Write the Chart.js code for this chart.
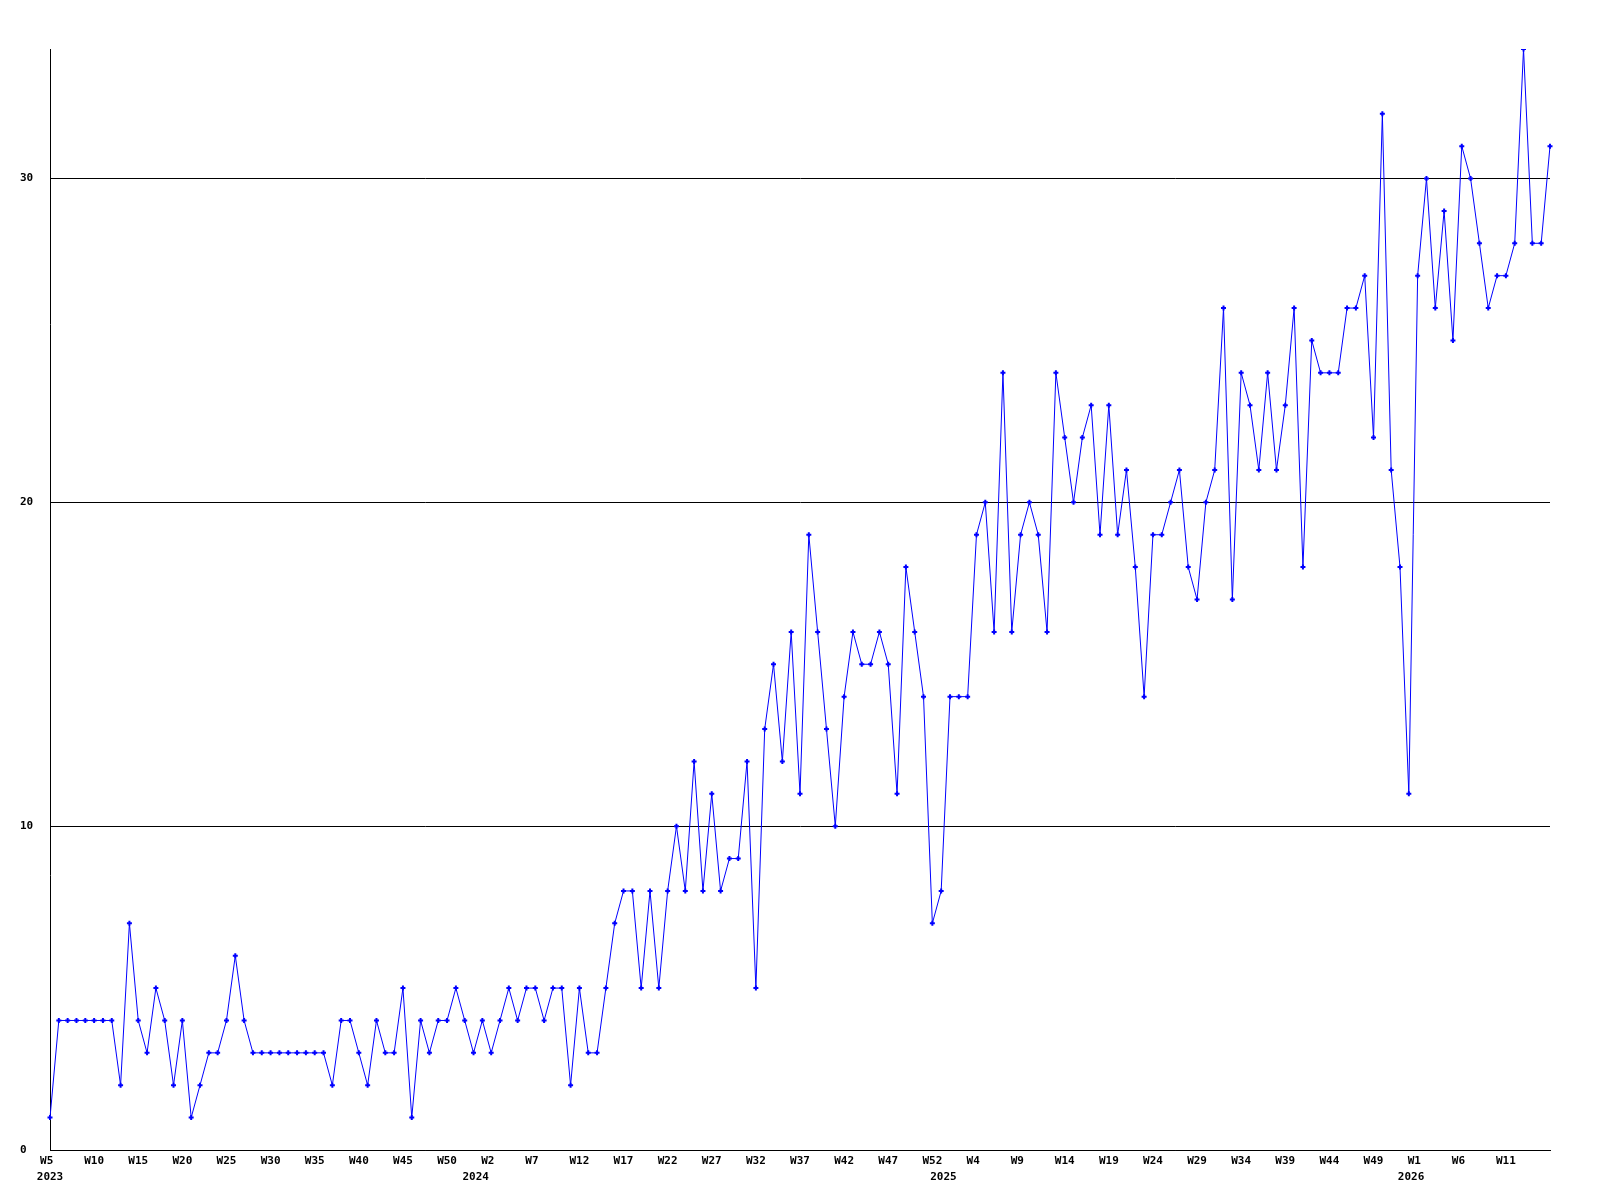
<!DOCTYPE html>
<html>
<head>
    <title>Weekly count</title>
    <script src="https://cdn.jsdelivr.net/npm/chart.js"></script>
    <style>
        body { margin: 0; background: #fff; }
        #wrap { width: 1600px; height: 1200px; }
    </style>
</head>
<body>
    <div id="wrap"><canvas id="chart" width="1600" height="1200"></canvas></div>

    <script>
// Weekly values, one array per year (week numbers run W1..W53 in this export)
const values2023 = [1, 4, 4, 4, 4, 4, 4, 4, 2, 7, 4, 3, 5, 4, 2, 4, 1, 2, 3, 3,
    4, 6, 4, 3, 3, 3, 3, 3, 3, 3, 3, 3, 2, 4, 4, 3, 2, 4, 3, 3,
    5, 1, 4, 3, 4, 4, 5, 4, 3];                       // W5..W53
const values2024 = [4, 3, 4, 5, 4, 5, 5, 4, 5, 5, 2, 5, 3, 3, 5, 7, 8, 8, 5, 8,
    5, 8, 10, 8, 12, 8, 11, 8, 9, 9, 12, 5, 13, 15, 12, 16, 11, 19, 16, 13,
    10, 14, 16, 15, 15, 16, 15, 11, 18, 16, 14, 7, 8];  // W1..W53
const values2025 = [14, 14, 14, 19, 20, 16, 24, 16, 19, 20, 19, 16, 24, 22, 20, 22, 23, 19, 23, 19,
    21, 18, 14, 19, 19, 20, 21, 18, 17, 20, 21, 26, 17, 24, 23, 21, 24, 21, 23, 26,
    18, 25, 24, 24, 24, 26, 26, 27, 22, 32, 21, 18, 11]; // W1..W53
const values2026 = [27, 30, 26, 29, 25, 31, 30, 28, 26, 27, 27, 28, 34, 28, 28, 31]; // W1..W16

// labels shown under every 5th point
const tickWeeks = ['W5', 'W10', 'W15', 'W20', 'W25', 'W30', 'W35', 'W40', 'W45', 'W50',
    'W2', 'W7', 'W12', 'W17', 'W22', 'W27', 'W32', 'W37', 'W42', 'W47', 'W52',
    'W4', 'W9', 'W14', 'W19', 'W24', 'W29', 'W34', 'W39', 'W44', 'W49',
    'W1', 'W6', 'W11'];
const yTicks = [0, 10, 20, 30];

// build categories + values, remember where each year starts
const series = [
    {year: 2023, start: 5, vals: values2023},
    {year: 2024, start: 1, vals: values2024},
    {year: 2025, start: 1, vals: values2025},
    {year: 2026, start: 1, vals: values2026}
];
const labels = [];
const values = [];
const yearAt = {};
series.forEach(s => {
    yearAt[labels.length] = String(s.year);
    s.vals.forEach((v, i) => {
        labels.push(s.year + '-W' + (s.start + i));
        values.push(v);
    });
});

const tickFont = { family: '"DejaVu Sans Mono", monospace', size: 11, weight: 'bold', lineHeight: 1.45 };

new Chart(document.getElementById('chart').getContext('2d'), {
    type: 'line',
    data: {
        labels: labels,
        datasets: [{
            data: values,
            borderColor: '#0000ff',
            backgroundColor: '#0000ff',
            borderWidth: 1,
            tension: 0,
            pointStyle: 'cross',
            pointRadius: 2.5,
            pointBorderWidth: 2,
            pointHoverRadius: 2.5
        }]
    },
    options: {
        responsive: false,
        animation: false,
        devicePixelRatio: 1,
        layout: { padding: { left: 20, right: 50, top: 49, bottom: 0 } },
        plugins: { legend: { display: false }, tooltip: { enabled: false } },
        scales: {
            x: {
                grid: { display: false, drawTicks: false },
                border: { display: true, color: '#000', width: 1 },
                ticks: {
                    autoSkip: false,
                    maxRotation: 0,
                    minRotation: 0,
                    padding: 3,
                    color: '#000',
                    font: tickFont,
                    callback: function (val, i) {
                        let wk = '';
                        if (i % 5 === 0 && i / 5 < tickWeeks.length) {
                            // pad to 3 chars so short labels sit left of the point like the original
                            wk = tickWeeks[i / 5].padEnd(3, ' ');
                        }
                        const yr = yearAt[i];
                        if (yr) return [wk, i === 0 ? yr : yr + '  '];
                        return wk;
                    }
                },
                afterFit: function (scale) { scale.height = 50; }
            },
            y: {
                min: 0,
                max: 34,
                grid: { color: '#000', lineWidth: 1, drawTicks: false },
                border: { display: true, color: '#000', width: 1 },
                afterBuildTicks: function (scale) {
                    scale.ticks = yTicks.map(v => ({ value: v }));
                },
                ticks: {
                    crossAlign: 'far',
                    padding: 17,
                    color: '#000',
                    font: tickFont
                },
                afterFit: function (scale) { scale.width = 30; }
            }
        }
    }
});
    </script>
</body>
</html>
